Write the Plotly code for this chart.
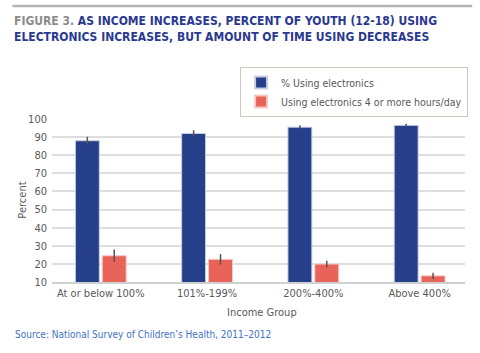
import plotly.graph_objects as go

categories = ["At or below 100%", "101%-199%", "200%-400%", "Above 400%"]
pct_using = [88.0, 92.0, 95.5, 96.5]
pct_using_err = [2.2, 1.8, 1.0, 0.9]
pct_4hrs = [24.5, 22.5, 19.9, 13.4]
pct_4hrs_err = [3.4, 2.9, 1.9, 1.7]
y_ticks = [10, 20, 30, 40, 50, 60, 70, 80, 90, 100]

FONT = "DejaVu Sans Condensed, Roboto, sans-serif"
BLUE = "#253f8a"
RED = "#e8635a"
GRAY = "#595959"

fig = go.Figure()
fig.add_trace(go.Bar(
    x=categories, y=pct_using, name="% Using electronics",
    marker=dict(color=BLUE, line=dict(color="#c9cfe3", width=1)),
    error_y=dict(type="data", array=pct_using_err, color="#555555", thickness=1.5, width=0),
))
fig.add_trace(go.Bar(
    x=categories, y=pct_4hrs, name="Using electronics 4 or more hours/day",
    marker=dict(color=RED, line=dict(color="#f6c9c5", width=1)),
    error_y=dict(type="data", array=pct_4hrs_err, color="#555555", thickness=1.5, width=0),
))

fig.update_layout(
    width=480, height=353,
    margin=dict(l=52, r=13, t=119, b=71),
    paper_bgcolor="white", plot_bgcolor="white",
    barmode="group", bargap=0.494, bargroupgap=0.11,
    font=dict(family=FONT, size=11, color=GRAY),
    showlegend=True,
    legend=dict(
        x=(241 - 52) / 415, y=(282 - 67) / 163, xanchor="left", yanchor="top",
        bgcolor="white", bordercolor="#cfc6bd", borderwidth=1,
        font=dict(family=FONT, size=10.5, color=GRAY),
        traceorder="normal", itemsizing="constant",
    ),
    xaxis=dict(
        range=[-0.459, 3.427], showgrid=False, ticks="",
        tickfont=dict(family=FONT, size=11, color=GRAY),
        showline=True, linecolor="#d0d0d0", linewidth=1.5,
    ),
    yaxis=dict(
        range=[10, 100], tickvals=y_ticks, showgrid=True,
        gridcolor="#dedede", gridwidth=1.5, zeroline=False,
        tickfont=dict(family=FONT, size=11, color=GRAY), ticks="",
        ticklabelstandoff=4,
    ),
    shapes=[dict(type="line", xref="paper", yref="paper",
                 x0=-0.096, x1=1.0175, y0=(353 - 71 - 6) / 163, y1=(353 - 71 - 6) / 163,
                 line=dict(color="#b3b3b3", width=2.5))],
    annotations=[
        dict(text="<span style='color:#8c8c8c'>FIGURE 3.</span> AS INCOME INCREASES, PERCENT OF YOUTH (12-18) USING<br>ELECTRONICS INCREASES, BUT AMOUNT OF TIME USING DECREASES",
             xref="paper", yref="paper", x=-0.096, y=(353 - 71 - 12) / 163, xanchor="left", yanchor="top",
             align="left", showarrow=False,
             font=dict(family=FONT, size=12, color="#2a3990", weight="bold")),
        dict(text="Percent", xref="paper", yref="paper", x=(22 - 52) / 415, y=0.5, textangle=-90,
             xanchor="center", yanchor="middle",
             showarrow=False, font=dict(family=FONT, size=11, color=GRAY)),
        dict(text="Income Group", xref="paper", yref="paper", x=(263 - 52) / 415, y=-(312 - 282) / 163,
             xanchor="center", yanchor="middle", showarrow=False, font=dict(family=FONT, size=11, color=GRAY)),
        dict(text="Source: National Survey of Children\u2019s Health, 2011\u20132012", xref="paper", yref="paper",
             x=(13 - 52) / 415, y=-(334 - 282) / 163, xanchor="left", yanchor="middle", showarrow=False,
             font=dict(family=FONT, size=10, color="#4372c4")),
    ],
)

fig.write_html("out.html")
